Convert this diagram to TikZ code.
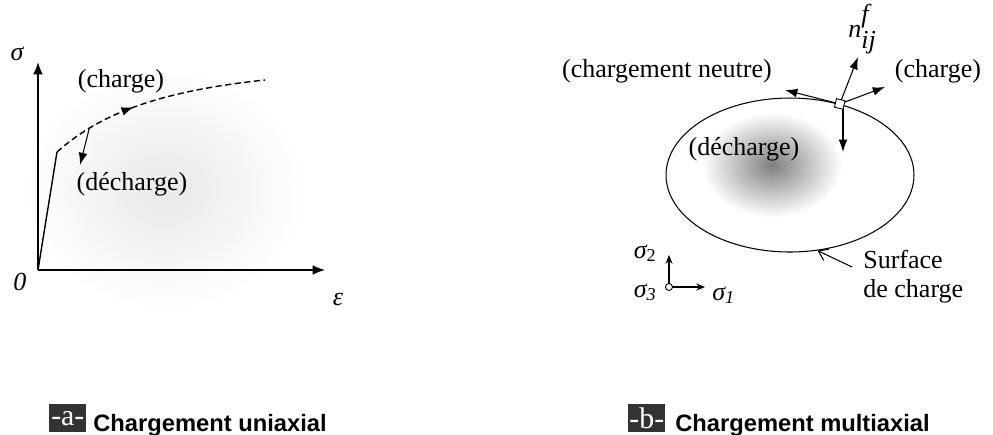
\documentclass[tikz,border=0pt]{standalone}
\usepackage{fontspec}
\setmainfont{Liberation Serif}
\newfontfamily\capfont{Liberation Sans}
\usetikzlibrary{arrows.meta,positioning,calc,shapes.geometric,decorations.markings}

\begin{document}
\begin{tikzpicture}[x=0.02cm, y=-0.02cm,
    lbl/.style={font=\fontsize{14.8}{16.5}\selectfont, inner sep=0pt},
    axis/.style={line width=0.8pt, -{Latex[length=7pt,width=5.5pt]}},
    vec/.style={line width=0.6pt, -{Latex[length=7pt,width=5pt]}},
    smallax/.style={line width=0.6pt, -{Stealth[length=5pt,width=4pt]}},
    tagbox/.style={fill=black!80, text=white, minimum width=0.74cm, minimum height=0.56cm, inner sep=0pt, font=\fontsize{17}{17}\selectfont},
    captxt/.style={font=\capfont\bfseries\fontsize{13.5}{15}\selectfont, inner sep=0pt, text=black}
]
\useasboundingbox (0,0) rectangle (993,434);

% soft grey background blobs
\shade[inner color=black!9, outer color=white] (165,190) ellipse [x radius=2.8cm, y radius=2.4cm];
\shade[inner color=black!50, outer color=white] (772,165) ellipse [x radius=1.4cm, y radius=1.05cm];

% ---------- (a) uniaxial ----------
\coordinate (O) at (38,270);
\coordinate (ytip) at (38,62);
\coordinate (xtip) at (325,270);
\coordinate (Y) at (57,152);
\coordinate (E) at (265,80);
\coordinate (Uend) at (80,165);

\draw[axis] (O) -- (ytip);
\draw[axis] (O) -- (xtip);
\draw[line width=0.8pt] (O) -- (Y);
\draw[line width=0.8pt, dash pattern=on 3.5pt off 2pt,
      postaction={decorate}, decoration={markings, mark=at position 0.4 with {\arrow{Latex[length=7pt,width=5pt]}}}]
    (Y) .. controls (95,118) and (150,92) .. coordinate[pos=0.25] (U) (E);
\draw[vec] (U) -- (Uend);

\node[lbl, anchor=base] (sig) at (17,60) {\itshape σ};
\node[lbl, anchor=base] (zero) at (20,290) {\itshape 0};
\node[lbl, anchor=base] (eps) at (338,305) {\itshape ε};
\node[lbl, anchor=base] (chg) at (121,87) {(charge)};
\node[lbl, anchor=base] (dech) at (132,190) {(décharge)};

% ---------- (b) multiaxial ----------
\node[draw, ellipse, line width=0.6pt, minimum width=4.96cm, minimum height=3.08cm, inner sep=0pt] (surf) at (790,175) {};
\coordinate (P) at (surf.55);
\coordinate (nrm) at (858,57);
\coordinate (ctip) at (885,87);
\coordinate (ntip) at (785,90);
\coordinate (dstart) at (843,108);
\coordinate (dtip) at (843,152);

\draw[vec] (P) -- (nrm);
\draw[vec] (P) -- (ctip);
\draw[vec] (P) -- (ntip);
\draw[vec] (dstart) -- (dtip);
\node[draw, fill=white, minimum size=5pt, inner sep=0pt, line width=0.5pt, rotate=-14] (sq) at (P) {};

\node[lbl, anchor=base] (neut) at (667,77) {(chargement neutre)};
\node[lbl, anchor=base] (chg2) at (938,77) {(charge)};
\node[lbl, anchor=base west] (nlab) at (848,37) {\textit{n}$^{\textit{f}}_{\textit{ij}}$};
\node[lbl, anchor=base] (dech2) at (744,155) {(décharge)};

% surface label
\node[lbl, anchor=base west] (surf1) at (863,268) {Surface};
\node[lbl, anchor=base west] (surf2) at (863,297) {de charge};
\coordinate (sarrow) at (852,267);
\draw[line width=0.6pt, -{Straight Barb[length=5pt,width=7pt]}] (sarrow) -- (surf.-70);

% principal stress axes
\coordinate (A0) at (669,287);
\coordinate (A2) at (669,255);
\coordinate (A1) at (705,287);
\draw[smallax] (A0) -- (A2);
\draw[smallax] (A0) -- (A1);
\node[draw, circle, fill=white, minimum size=4pt, inner sep=0pt, line width=0.5pt] (a3) at (A0) {};
\node[lbl, anchor=base east] (s2) at (657,258) {{\itshape σ}\textsubscript{2}};
\node[lbl, anchor=base east] (s3) at (657,297) {{\itshape σ}\textsubscript{\itshape 3}};
\node[lbl, anchor=base west] (s1) at (712,300) {{\itshape σ}\textsubscript{\itshape 1}};

% captions
\node[tagbox, anchor=north west] (taga) at (49,404) {-a-};
\node[captxt, anchor=base west] (capa) at (93,431) {Chargement uniaxial};
\node[tagbox, anchor=north west] (tagb) at (628,404) {-b-};
\node[captxt, anchor=base west] (capb) at (675,431) {Chargement multiaxial};

\end{tikzpicture}
\end{document}
